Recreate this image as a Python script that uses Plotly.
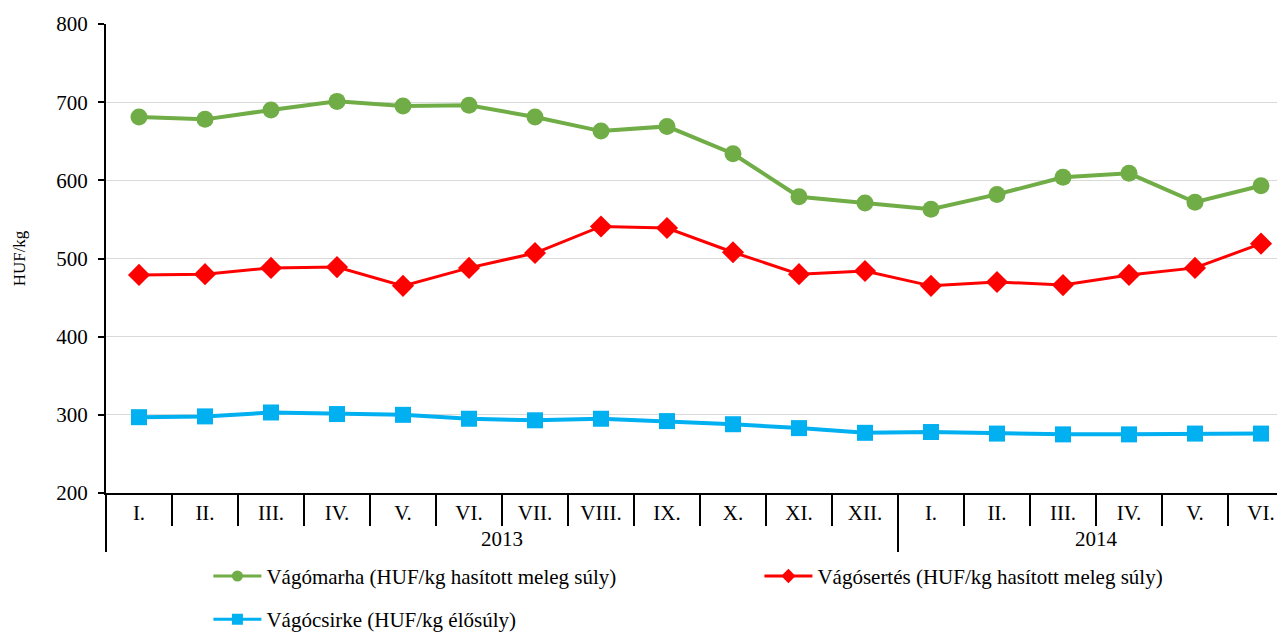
import plotly.graph_objects as go

years = ["2013"] * 12 + ["2014"] * 6
months = ["I.", "II.", "III.", "IV.", "V.", "VI.", "VII.", "VIII.", "IX.", "X.", "XI.", "XII.",
          "I.", "II.", "III.", "IV.", "V.", "VI."]

marha = [681, 678, 690, 701, 695, 696, 681, 663, 669, 634, 579, 571, 563, 582, 604, 609, 572, 593]
sertes = [479, 480, 488, 489, 465, 488, 507, 541, 539, 508, 480, 484, 465, 470, 466, 479, 488, 519]
csirke = [297, 298, 303, 301, 300, 295, 293, 295, 292, 288, 283, 277, 278, 276, 275, 275, 276, 276]

names = ["Vágómarha (HUF/kg hasított meleg súly)",
         "Vágósertés (HUF/kg hasított meleg súly)",
         "Vágócsirke (HUF/kg élősúly)"]
colors = ["#70AD47", "#FF0000", "#00B0F0"]
symbols = ["circle", "diamond", "square"]
series = [marha, sertes, csirke]
legends = ["legend", "legend2", "legend"]
line_w = [4, 3, 4]
mk_size = [17, 17, 16]

FONT = "Liberation Serif"
x = [years, months]

fig = go.Figure()
for i in range(3):
    fig.add_trace(go.Scatter(x=x, y=series[i], name=names[i], mode="lines+markers",
                             showlegend=False,
                             line=dict(color=colors[i], width=line_w[i]),
                             marker=dict(symbol=symbols[i], size=mk_size[i], color=colors[i])))
# legend entries with smaller legend markers (as in the reference)
for i in range(3):
    fig.add_trace(go.Scatter(x=[None], y=[None], name=names[i], mode="lines+markers",
                             legend=legends[i], legendgroup=str(i), showlegend=True,
                             line=dict(color=colors[i], width=3),
                             marker=dict(symbol=symbols[i], size=11, color=colors[i])))

legend_common = dict(orientation="v", yanchor="top", xanchor="left",
                     font=dict(size=21, family=FONT, color="black"),
                     bgcolor="rgba(0,0,0,0)", tracegroupgap=13, itemwidth=48)

# page body adds an 8px offset; figure sized so the plot lands where the reference has it
fig.update_layout(
    width=1287, height=624,
    margin=dict(l=98, r=1, t=16, b=139, autoexpand=False),
    plot_bgcolor="white", paper_bgcolor="white",
    font=dict(family=FONT, size=21, color="black"),
    showlegend=True,
    legend=dict(x=0.0862, y=-0.134, **legend_common),
    legend2=dict(x=0.550, y=-0.134, **legend_common),
    yaxis=dict(range=[200, 800], dtick=100, showgrid=True, gridcolor="#D9D9D9", gridwidth=1,
               showline=True, linecolor="black", linewidth=2, ticks="outside", ticklen=6,
               tickcolor="black", tickwidth=2, automargin=False, ticklabelstandoff=6,
               tickfont=dict(size=21, family=FONT),
               title=dict(text="HUF/kg", font=dict(size=17, family=FONT), standoff=26),
               zeroline=False),
    xaxis=dict(type="multicategory", range=[-0.5, 17.5], automargin=False,
               showline=True, linecolor="black", linewidth=2,
               ticks="outside", ticklen=31, tickcolor="black", tickwidth=2,
               showdividers=True, dividercolor="black", dividerwidth=2,
               tickfont=dict(size=21, family=FONT), showgrid=False),
)

fig.write_html("out.html")
